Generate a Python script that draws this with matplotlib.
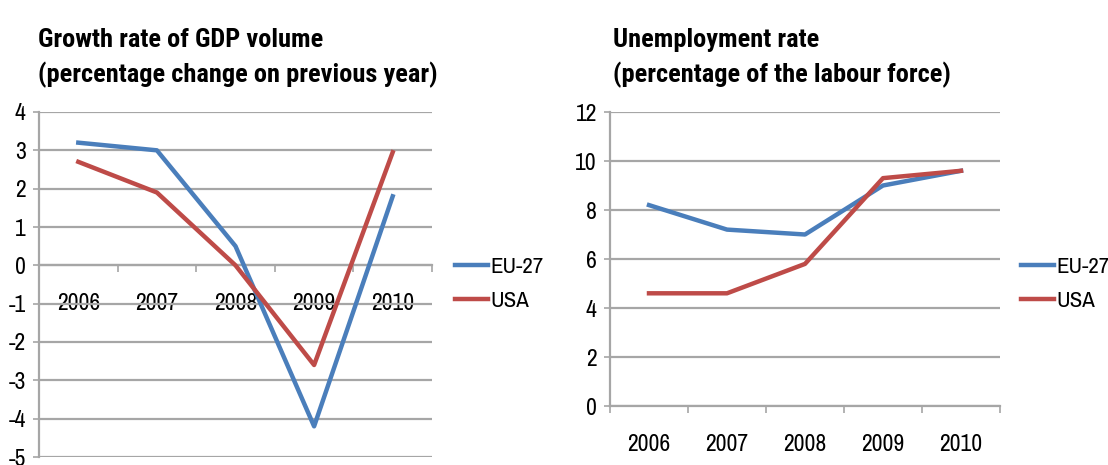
import matplotlib.pyplot as plt
import numpy as np

plt.rcParams['font.family'] = ['Archivo Narrow', 'Liberation Sans', 'DejaVu Sans']
plt.rcParams['axes.unicode_minus'] = False

years = ['2006', '2007', '2008', '2009', '2010']

# Growth rate of GDP volume
gdp_eu  = [3.2, 3.0, 0.5, -4.2, 1.8]
gdp_usa = [2.7, 1.9, 0.0, -2.6, 2.95]

# Unemployment rate
unemp_eu  = [8.2, 7.2, 7.0, 9.0, 9.6]
unemp_usa = [4.6, 4.6, 5.8, 9.3, 9.6]

blue = '#4A7EBB'
red = '#BE4B48'
grid_col = '#A6A6A6'
fs = 17
title_font = ['Roboto Condensed', 'Asap Condensed', 'Liberation Sans', 'DejaVu Sans']


def style_axes(ax, ymin, ymax, step, zero_spine):
    x = np.arange(len(years))
    ax.set_xlim(-0.5, len(years) - 0.5)
    ax.set_ylim(ymin, ymax)
    ax.set_yticks(np.arange(ymin, ymax + 0.01, step))
    ax.set_xticks(x)
    ax.set_xticklabels(years)
    ax.set_xticks(np.arange(-0.5, len(years), 1), minor=True)
    ax.grid(axis='y', color=grid_col, linewidth=1.6, zorder=0)
    ax.set_axisbelow(True)
    for s in ['top', 'right']:
        ax.spines[s].set_visible(False)
    for s in ['left', 'bottom']:
        ax.spines[s].set_color(grid_col)
        ax.spines[s].set_linewidth(1.6)
    if zero_spine:
        ax.spines['bottom'].set_position(('data', 0))
    ax.tick_params(axis='x', which='major', length=0, pad=20, labelsize=fs)
    ax.tick_params(axis='x', which='minor', length=5, width=1.2, color=grid_col, direction='out')
    ax.tick_params(axis='y', length=4.5, width=1.2, color=grid_col, labelsize=fs, pad=5)


def add_legend(ax, x0):
    ax.legend(loc='center left', bbox_to_anchor=(x0 / 1108, (465 - 284) / 465),
              bbox_transform=fig.transFigure, frameon=False, fontsize=16.5,
              handlelength=1.45, handletextpad=0.1, labelspacing=0.65,
              borderpad=0, borderaxespad=0)


fig = plt.figure(figsize=(11.08, 4.65), dpi=100)
x = np.arange(len(years))

ax1 = fig.add_axes([39 / 1108, 8 / 465, 393 / 1108, 345 / 465])
ax1.plot(x, gdp_eu, color=blue, linewidth=3.2, label='EU-27', zorder=3)
ax1.plot(x, gdp_usa, color=red, linewidth=3.2, label='USA', zorder=3)
style_axes(ax1, -5, 4, 1, True)
add_legend(ax1, 455)

ax2 = fig.add_axes([610 / 1108, 59 / 465, 390 / 1108, 294 / 465])
ax2.plot(x, unemp_eu, color=blue, linewidth=3.2, label='EU-27', zorder=3)
ax2.plot(x, unemp_usa, color=red, linewidth=3.2, label='USA', zorder=3)
style_axes(ax2, 0, 12, 2, False)
add_legend(ax2, 1021)

fig.text(38 / 1108, 1 - 82 / 465, 'Growth rate of GDP volume\n(percentage change on previous year)',
         fontsize=19, fontweight='bold', family=title_font,
         ha='left', va='baseline', linespacing=1.45)
fig.text(613 / 1108, 1 - 82 / 465, 'Unemployment rate\n(percentage of the labour force)',
         fontsize=19, fontweight='bold', family=title_font,
         ha='left', va='baseline', linespacing=1.45)

fig.savefig('out.png', dpi=100)
